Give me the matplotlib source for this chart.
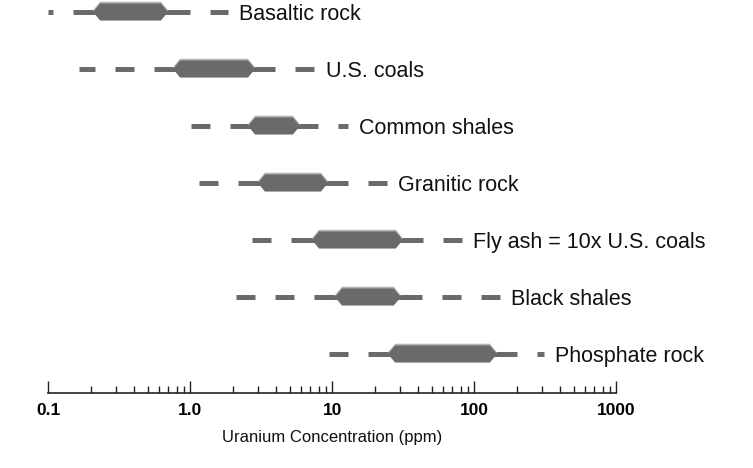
import numpy as np
import matplotlib
matplotlib.use("Agg")
import matplotlib.pyplot as plt
from matplotlib import font_manager
from matplotlib.patches import Polygon
from matplotlib.ticker import LogLocator, FixedLocator, NullFormatter

# ---------------- data ----------------
categories = ["Basaltic rock", "U.S. coals", "Common shales", "Granitic rock",
              "Fly ash = 10x U.S. coals", "Black shales", "Phosphate rock"]
outer_lo = [0.10, 0.164, 0.99, 1.13, 2.71, 2.06, 9.29]
line_lo  = [0.149, 0.553, 1.90, 2.16, 5.1, 7.41, 17.8]
bar_lo   = [0.206, 0.753, 2.54, 2.98, 7.17, 10.4, 24.6]
bar_hi   = [0.695, 2.85, 5.90, 9.3, 31.3, 30.3, 144]
line_hi  = [0.99, 3.94, 7.9, 12.9, 43.3, 42.6, 199]
outer_hi = [1.84, 7.53, 12.9, 24.2, 81.6, 151, 308]
tick_values = [0.1, 1, 10, 100, 1000]
tick_labels = ["0.1", "1.0", "10", "100", "1000"]
xlabel = "Uranium Concentration (ppm)"

# ---------------- style ----------------
names = {f.name for f in font_manager.fontManager.ttflist}
main_font = "Liberation Sans" if "Liberation Sans" in names else "DejaVu Sans"
narrow_font = "Liberation Sans Narrow" if "Liberation Sans Narrow" in names else main_font
plt.rcParams['font.family'] = [main_font, 'DejaVu Sans']

BAR_COLOR = "#6a6a6a"
HILITE = "#b4b4b4"
DASH = 0.134   # decades
GAP = 0.141    # decades
TAPER = 0.05   # decades
BAR_H = 0.30
LINE_W = 3.6

fig = plt.figure(figsize=(7.53, 4.68), dpi=100)
ax = fig.add_axes([0.0644, 0.1603, 0.7543, 0.8397])
ax.set_xscale("log")
ax.set_xlim(0.1, 1000)
ax.set_ylim(6.684, -0.2105)


def dashed(start, stop):
    """dash segments starting with a gap at start, moving toward stop (log space)."""
    a, b = np.log10(start), np.log10(stop)
    sgn = 1 if b > a else -1
    segs = []
    pos = a + sgn * GAP
    while (b - pos) * sgn > 0:
        end = pos + sgn * DASH
        if (end - b) * sgn > 0:
            end = b
        segs.append((10 ** min(pos, end), 10 ** max(pos, end)))
        pos = end + sgn * GAP
    return segs


for i, name in enumerate(categories):
    y = i
    # dashed extensions
    for x0, x1 in dashed(line_lo[i], outer_lo[i]) + dashed(line_hi[i], outer_hi[i]):
        ax.plot([x0, x1], [y, y], color=BAR_COLOR, lw=LINE_W, solid_capstyle="butt")
    # thin solid line
    ax.plot([line_lo[i], line_hi[i]], [y, y], color=BAR_COLOR, lw=LINE_W,
            solid_capstyle="butt")
    # hexagonal bar
    l0, l1 = np.log10(bar_lo[i]), np.log10(bar_hi[i])
    xs = 10 ** np.array([l0, l0 + TAPER, l1 - TAPER, l1, l1 - TAPER, l0 + TAPER])
    h = BAR_H / 2
    ys = np.array([y, y - h, y - h, y, y + h, y + h])
    ax.add_patch(Polygon(np.column_stack([xs, ys - 0.03]), closed=True,
                         facecolor=HILITE, edgecolor="none", zorder=3))
    ax.add_patch(Polygon(np.column_stack([xs, ys]), closed=True,
                         facecolor=BAR_COLOR, edgecolor="none", zorder=4))
    ax.annotate(name, xy=(outer_hi[i], y), xytext=(8, -2), textcoords="offset points",
                va="center", ha="left", fontsize=15.5, color="#111111")

for s in ["top", "right", "left"]:
    ax.spines[s].set_visible(False)
ax.spines["bottom"].set_color("#222222")
ax.spines["bottom"].set_linewidth(1.2)
ax.set_yticks([])
ax.xaxis.set_major_locator(FixedLocator(tick_values))
ax.set_xticklabels(tick_labels, fontsize=12.5, fontweight="bold", family=[narrow_font, main_font])
ax.xaxis.set_minor_locator(LogLocator(base=10, subs=np.arange(2, 10)))
ax.xaxis.set_minor_formatter(NullFormatter())
ax.tick_params(axis="x", which="major", direction="in", length=8.6, width=1.0,
               color="#222222", pad=7)
ax.tick_params(axis="x", which="minor", direction="in", length=5, width=1.0,
               color="#222222")
ax.set_xlabel(xlabel, fontsize=12, family=[narrow_font, main_font], labelpad=9,
              color="#111111")

fig.savefig("out.png", dpi=100)
